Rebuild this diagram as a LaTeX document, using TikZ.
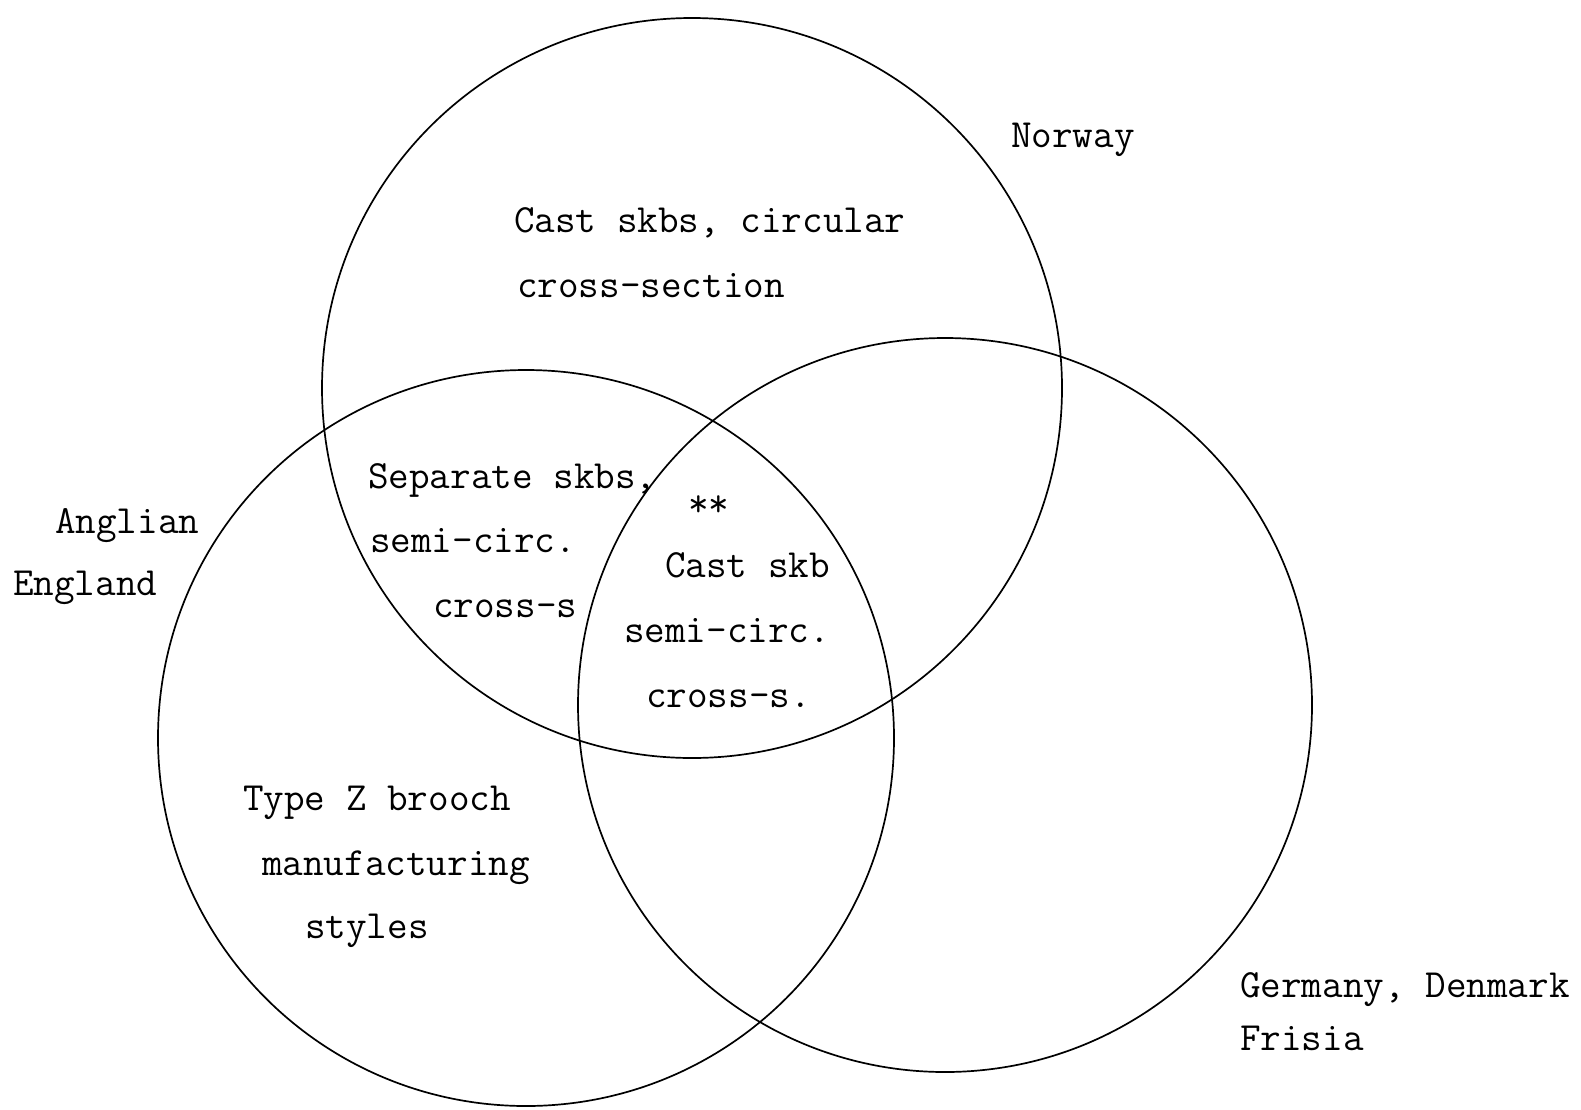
\documentclass[tikz,border=0pt]{standalone}
\usepackage{fontspec}
\begin{document}
\begin{tikzpicture}[x=1pt,y=-1pt,
  ring/.style={draw=black,line width=1.7pt},
  txt/.style={anchor=base west,inner sep=0pt,outer sep=0pt,
    font=\fontsize{40}{48}\selectfont\ttfamily}]
\useasboundingbox[fill=white] (0,0) rectangle (1581,1109);

% the three regions
\draw[ring] (692,388) circle[radius=370pt];
\draw[ring] (526,738) circle[radius=368pt];
\draw[ring] (945,705) circle[radius=367pt];

% region names
\node[txt] (norway) at (1011,147) {Norway};
\node[txt] (anglian) at (55,533) {Anglian};
\node[txt] (england) at (13,595) {England};
\node[txt] (germany) at (1240,997) {Germany, Denmark};
\node[txt] (frisia) at (1240,1050) {Frisia};

% Norway only
\node[txt] (cast1) at (514,232) {Cast skbs, circular};
\node[txt] (cross1) at (517,297) {cross-section};

% Norway and England
\node[txt] (sep1) at (368,488) {Separate skbs,};
\node[txt] (sep2) at (370,552) {semi-circ.};
\node[txt] (sep3) at (433,617) {cross-s};

% all three
\node[txt] (stars) at (688,516) {**};
\node[txt] (cast2) at (665,577) {Cast skb};
\node[txt] (cast3) at (624,642) {semi-circ.};
\node[txt] (cast4) at (646,707) {cross-s.};

% England only
\node[txt] (type1) at (243,810) {Type Z brooch};
\node[txt] (type2) at (262,875) {manufacturing};
\node[txt] (type3) at (305,938) {styles};
\end{tikzpicture}
\end{document}
